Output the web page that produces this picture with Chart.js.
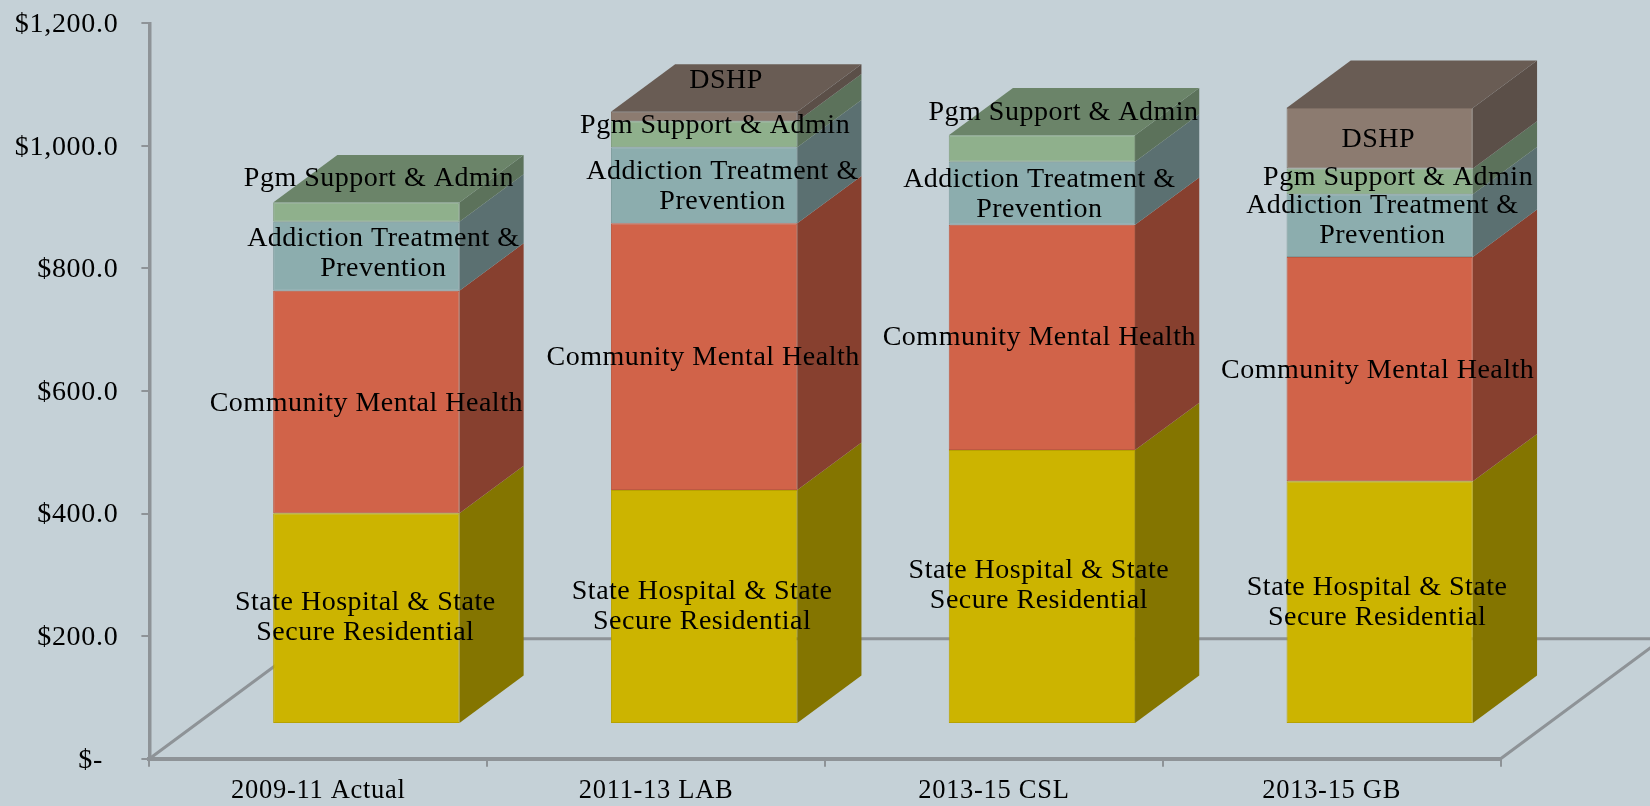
<!DOCTYPE html>
<html><head><meta charset="utf-8">
<style>html,body{margin:0;padding:0;background:#C5D1D7;overflow:hidden}#wrap{position:relative;width:1650px;height:806px}</style>
<script src="https://cdn.jsdelivr.net/npm/chart.js@4"></script>
</head><body><div id="wrap"><canvas id="c" width="1650" height="806"></canvas></div>
<script>
const categories = ['2009-11 Actual','2011-13 LAB','2013-15 CSL','2013-15 GB'];
const tickValues = [0,200,400,600,800,1000,1200];
const stateHospital = [344,382,447,396];
const communityMH   = [363,435,367.5,366];
const addiction     = [112.6,124,103,102.3];
const pgmSupport    = [31.5,42.4,43,42];
const dshp          = [0,15.8,0,98.9];

const FONT='"Liberation Serif", serif';
const SP='0.7px';
const AXIS='#8E9397';
// depth of the 3-D look, in pixels
const BAR_DX=64.2, BAR_DY=47.4, SHIFT_X=48, SHIFT_Y=34.7, FLOOR_DY=120;
const FLOOR_DX=FLOOR_DY/0.74;

function shade(hex,f){const n=parseInt(hex.slice(1),16);
  return `rgb(${(n>>16&255)*f|0},${(n>>8&255)*f|0},${(n&255)*f|0})`;}

const series=[
 {label:'State Hospital & State Secure Residential',data:stateHospital,color:'#CCB400',lines:['State Hospital & State','Secure Residential'],
  nudge:[[-1,-2],[-2,-1.5],[-3,-2],[-2.6,-1.5]]},
 {label:'Community Mental Health',data:communityMH,color:'#D16349',lines:['Community Mental Health'],
  nudge:[[0,0],[-1,0],[-2.6,-1],[-2,0]]},
 {label:'Addiction Treatment & Prevention',data:addiction,color:'#8CADAE',lines:['Addiction Treatment &','Prevention'],
  nudge:[[17,-4.5],[18.4,0],[-2.6,0],[2.6,-6.3]]},
 {label:'Pgm Support & Admin',data:pgmSupport,color:'#8FB08C',lines:['Pgm Support & Admin'],
  nudge:[[12.6,-35],[11,-10.5],[21.6,-37.4],[18.4,-5]]},
 {label:'DSHP',data:dshp,color:'#8C7B70',lines:['DSHP'],
  nudge:[[0,0],[22,-37],[0,0],[-1.5,0]]}
];

const box3d={id:'box3d',
 beforeDraw(chart){chart.ctx.letterSpacing=SP;},
 beforeDatasetsDraw(chart){
  const {ctx,chartArea:a}=chart;
  ctx.save();
  ctx.letterSpacing='0px';
  ctx.strokeStyle=AXIS;ctx.lineWidth=3;
  ctx.beginPath();
  ctx.moveTo(a.left,a.bottom);ctx.lineTo(a.left+FLOOR_DX,a.bottom-FLOOR_DY);ctx.lineTo(1650,a.bottom-FLOOR_DY);
  ctx.moveTo(a.right,a.bottom);ctx.lineTo(a.right+FLOOR_DX,a.bottom-FLOOR_DY);
  ctx.stroke();
  ctx.restore();
  ctx.save();
  ctx.translate(SHIFT_X,-SHIFT_Y);
  categories.forEach((_,i)=>{
    let top=null,topColor=null;
    series.forEach((s,d)=>{
      const el=chart.getDatasetMeta(d).data[i];
      if(!s.data[i])return;
      const r=el.x+el.width/2,l=el.x-el.width/2;
      ctx.fillStyle=shade(s.color,0.65);
      ctx.beginPath();ctx.moveTo(r,el.base);ctx.lineTo(r+BAR_DX,el.base-BAR_DY);ctx.lineTo(r+BAR_DX,el.y-BAR_DY);ctx.lineTo(r,el.y);ctx.closePath();ctx.fill();
      top={l,r,y:el.y};topColor=s.color;
    });
    ctx.fillStyle=shade(topColor,0.75);
    ctx.beginPath();ctx.moveTo(top.l,top.y);ctx.lineTo(top.r,top.y);ctx.lineTo(top.r+BAR_DX,top.y-BAR_DY);ctx.lineTo(top.l+BAR_DX,top.y-BAR_DY);ctx.closePath();ctx.fill();
  });
 },
 afterDatasetsDraw(chart){
  const {ctx}=chart;
  series.forEach((s,d)=>{
    const meta=chart.getDatasetMeta(d);
    meta.data.forEach((el,i)=>{
      if(!s.data[i])return;
      const cx=el.x+s.nudge[i][0],cy=(el.y+el.base)/2+s.nudge[i][1]+1.5;
      ctx.font='28px '+FONT;ctx.fillStyle='#000';ctx.textAlign='center';ctx.textBaseline='middle';
      ctx.letterSpacing='0.5px';
      const lh=30;
      s.lines.forEach((t,k)=>ctx.fillText(t,cx,cy+(k-(s.lines.length-1)/2)*lh));
    });
  });
  ctx.restore();
 }
};

new Chart(document.getElementById('c'),{
 type:'bar',
 data:{labels:categories,datasets:series.map(s=>({label:s.label,data:s.data,backgroundColor:s.color,
   borderColor:shade(s.color,0.9),borderWidth:1,borderSkipped:false,
   barPercentage:0.5515,categoryPercentage:1,clip:false}))},
 options:{responsive:false,animation:false,
  layout:{padding:{left:0,right:149.4,top:23.3,bottom:0}},
  plugins:{legend:{display:false},tooltip:{enabled:false},title:{display:false}},
  scales:{
   x:{stacked:true,afterFit(s){s.height=47.3;s.paddingLeft=0;s.paddingRight=0;},
      grid:{drawOnChartArea:false,drawTicks:true,tickLength:8,color:AXIS,lineWidth:2},
      border:{color:AXIS,width:4},
      ticks:{color:'#000',padding:8,maxRotation:0,font:{family:FONT,size:26.5}}},
   y:{stacked:true,min:0,max:1200,afterFit(s){s.width=149.4;s.paddingTop=0;s.paddingBottom=0;},
      afterBuildTicks(s){s.ticks=tickValues.map(v=>({value:v}));},
      grid:{drawOnChartArea:false,drawTicks:true,tickLength:8,color:AXIS,lineWidth:2},
      border:{color:AXIS,width:3.5},
      ticks:{color:'#000',padding:23,labelOffset:1.5,font:{family:FONT,size:28},
        callback:v=>v===0?'$-\u00A0\u00A0':'$'+v.toLocaleString('en-US',{minimumFractionDigits:1,maximumFractionDigits:1})}}
  }
 },
 plugins:[box3d]
});
</script></body></html>
